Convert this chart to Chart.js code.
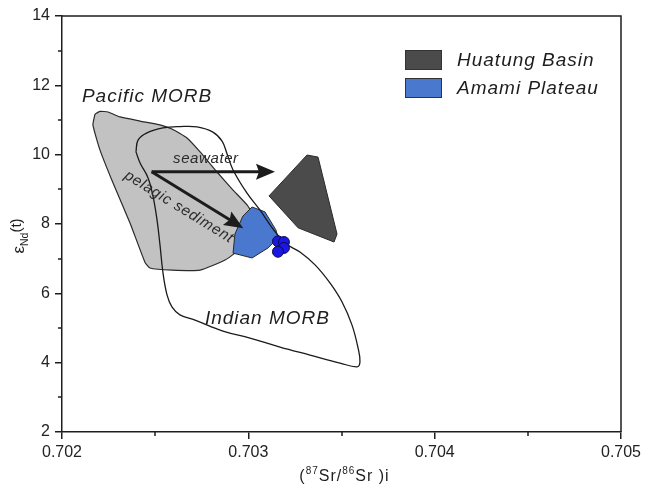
<!DOCTYPE html>
<html>
<head>
<meta charset="utf-8">
<title>εNd(t) vs (87Sr/86Sr)i</title>
<script src="https://cdn.jsdelivr.net/npm/chart.js@4.4.1/dist/chart.umd.min.js"></script>
<style>
  html, body { margin: 0; padding: 0; background: #fff; }
  #box { width: 646px; height: 490px; }
</style>
</head>
<body>
<div id="box"><canvas id="chart" width="646" height="490"></canvas></div>
<script>
// ---- axis ticks ----
const srTicks = [0.702, 0.703, 0.704, 0.705];
const srMinorTicks = [0.7025, 0.7035, 0.7045];
const ndTicks = [2, 4, 6, 8, 10, 12, 14];
const ndMinorTicks = [3, 5, 7, 9, 11, 13];

// ---- MORB fields (closed outlines) ----
const pacificSr = [0.702177, 0.702204, 0.702247, 0.702311, 0.702419, 0.702526, 0.702590, 0.702671,
  0.702741, 0.702832, 0.702918, 0.702993, 0.703020, 0.702945, 0.702875, 0.702741, 0.702590,
  0.702472, 0.702445, 0.702365, 0.702274, 0.702204, 0.702166, 0.702177];
const pacificNd = [11.17, 11.25, 11.23, 11.09, 10.97, 10.86, 10.74, 10.48,
  10.08, 9.50, 8.98, 8.55, 8.29, 7.25, 6.96, 6.67, 6.67,
  6.73, 6.90, 8.03, 9.18, 10.13, 10.86, 11.17];

const indianSr = [0.702397, 0.702408, 0.702456, 0.702542, 0.702633, 0.702725, 0.702810, 0.702859,
  0.702886, 0.702918, 0.702993, 0.703063, 0.703132, 0.703197, 0.703277, 0.703358, 0.703438,
  0.703503, 0.703556, 0.703589, 0.703599, 0.703583, 0.703492, 0.703331, 0.703170, 0.703009,
  0.702864, 0.702714, 0.702633, 0.702590, 0.702564, 0.702542, 0.702526, 0.702510, 0.702488,
  0.702462, 0.702419, 0.702397];
const indianNd = [10.08, 10.42, 10.63, 10.77, 10.81, 10.80, 10.65, 10.39,
  10.02, 9.56, 8.89, 8.40, 7.86, 7.45, 7.19, 6.82, 6.30,
  5.75, 5.09, 4.42, 4.02, 3.88, 3.99, 4.22, 4.45, 4.71,
  4.91, 5.23, 5.38, 5.61, 5.95, 6.59, 7.39, 8.12, 8.81,
  9.33, 9.76, 10.08];

// ---- back-arc basin fields ----
const huatungSr = [0.703111, 0.703315, 0.703374, 0.703476, 0.703460, 0.703267, 0.703111];
const huatungNd = [8.81, 9.99, 9.93, 7.71, 7.48, 7.89, 8.81];

const amamiSr = [0.702971, 0.703020, 0.703089, 0.703148, 0.703159, 0.703106, 0.703020, 0.702918, 0.702928, 0.702971];
const amamiNd = [8.23, 8.49, 8.35, 7.83, 7.60, 7.31, 7.02, 7.16, 7.71, 8.23];

// ---- analysed samples ----
const sampleSr = [0.703159, 0.703191, 0.703191, 0.703159];
const sampleNd = [7.50, 7.48, 7.31, 7.20];

// ---- alteration / contamination trends (tail, head) ----
const seawaterSr = [0.702481, 0.703143];
const seawaterNd = [9.51, 9.51];
const sedimentSr = [0.702481, 0.702973];
const sedimentNd = [9.51, 7.88];

// ---- in-plot field names ----
const fieldNames = ['Pacific MORB', 'Indian MORB', 'seawater', 'pelagic sediment'];
const fieldNameSr = [0.702107, 0.702767, 0.702596, 0.702628];
const fieldNameNd = [11.52, 5.12, 9.76, 8.49];

const legendFields = ['Huatung Basin', 'Amami Plateau'];

const zip = (xs, ys) => xs.map((x, i) => ({ x, y: ys[i] }));
const FONT = "'Liberation Sans', Arial, Helvetica, sans-serif";
const INK = '#1e1e1e';

const nameStyles = [
  { size: 19, spacing: 1, align: 'left', baseline: 'alphabetic', angle: 0 },
  { size: 19, spacing: 1, align: 'left', baseline: 'alphabetic', angle: 0 },
  { size: 15, spacing: 0.6, align: 'left', baseline: 'alphabetic', angle: 0 },
  { size: 15, spacing: 0.8, align: 'center', baseline: 'middle', angle: 31.5 }
];

function runsWidth(ctx, runs) {
  let w = 0;
  runs.forEach(r => { ctx.font = `${r.size}px ${FONT}`; w += ctx.measureText(r.text).width; });
  return w;
}
function drawRuns(ctx, runs, x0, base) {
  let cx = x0;
  runs.forEach(r => {
    ctx.font = `${r.size}px ${FONT}`;
    ctx.fillText(r.text, cx, base + r.dy);
    cx += ctx.measureText(r.text).width;
  });
}

// top/right frame and minor ticks
const framePlugin = {
  id: 'frame',
  afterDraw(chart) {
    const { ctx, chartArea: a, scales: { x, y } } = chart;
    ctx.save();
    ctx.strokeStyle = INK;
    ctx.lineWidth = 1.5;
    ctx.beginPath();
    ctx.moveTo(a.left, a.top);
    ctx.lineTo(a.right, a.top);
    ctx.lineTo(a.right, a.bottom);
    ctx.stroke();
    ctx.beginPath();
    srMinorTicks.forEach(v => {
      const p = Math.round(x.getPixelForValue(v));
      ctx.moveTo(p, a.bottom); ctx.lineTo(p, a.bottom + 4);
    });
    ndMinorTicks.forEach(v => {
      const p = Math.round(y.getPixelForValue(v));
      ctx.moveTo(a.left, p); ctx.lineTo(a.left - 4, p);
    });
    ctx.stroke();
    ctx.restore();
  }
};

// arrows for trend datasets
const arrowPlugin = {
  id: 'arrows',
  afterDatasetsDraw(chart) {
    const ctx = chart.ctx;
    chart.data.datasets.forEach((ds, i) => {
      if (!ds.arrow) return;
      const pts = chart.getDatasetMeta(i).data;
      const a = pts[0], b = pts[pts.length - 1];
      const ang = Math.atan2(b.y - a.y, b.x - a.x);
      const c = Math.cos(ang), s = Math.sin(ang);
      const L = 19, W = 8, notch = 3;
      const bx = b.x - L * c, by = b.y - L * s;
      ctx.save();
      ctx.strokeStyle = ds.borderColor;
      ctx.fillStyle = ds.borderColor;
      ctx.lineWidth = 3;
      ctx.lineCap = 'butt';
      ctx.beginPath();
      ctx.moveTo(a.x, a.y);
      ctx.lineTo(bx + notch * c + 2 * c, by + notch * s + 2 * s);
      ctx.stroke();
      ctx.beginPath();
      ctx.moveTo(b.x, b.y);
      ctx.lineTo(bx - W * s, by + W * c);
      ctx.lineTo(bx + notch * c, by + notch * s);
      ctx.lineTo(bx + W * s, by - W * c);
      ctx.closePath();
      ctx.fill();
      ctx.restore();
    });
  }
};

// field names, legend, axis titles
const textPlugin = {
  id: 'texts',
  afterDraw(chart) {
    const { ctx, chartArea: a, scales: { x, y } } = chart;
    ctx.save();
    ctx.fillStyle = INK;

    fieldNames.forEach((name, i) => {
      const st = nameStyles[i];
      ctx.save();
      ctx.translate(x.getPixelForValue(fieldNameSr[i]), y.getPixelForValue(fieldNameNd[i]));
      ctx.rotate(st.angle * Math.PI / 180);
      ctx.font = `italic ${st.size}px ${FONT}`;
      ctx.letterSpacing = st.spacing + 'px';
      ctx.textAlign = st.align;
      ctx.textBaseline = st.baseline;
      ctx.fillStyle = i < 2 ? INK : '#2a2a2a';
      ctx.fillText(name, 0, 0);
      ctx.restore();
    });

    // legend
    const lx = a.left + 343, ly = a.top + 34;
    legendFields.forEach((name, k) => {
      const ds = chart.data.datasets.find(d => d.label === name);
      const top = ly + k * 28;
      ctx.fillStyle = ds.backgroundColor;
      ctx.fillRect(lx, top, 37, 20);
      ctx.strokeStyle = '#333';
      ctx.lineWidth = 1;
      ctx.strokeRect(lx + 0.5, top + 0.5, 36, 19);
      ctx.save();
      ctx.fillStyle = INK;
      ctx.font = `italic 19px ${FONT}`;
      ctx.letterSpacing = '1px';
      ctx.textAlign = 'left';
      ctx.textBaseline = 'middle';
      ctx.fillText(name, lx + 52, top + 10.5);
      ctx.restore();
    });

    // x axis title: (87Sr/86Sr )i
    ctx.fillStyle = INK;
    ctx.textAlign = 'left';
    ctx.textBaseline = 'alphabetic';
    ctx.letterSpacing = '1px';
    const xr = [
      { text: '(', size: 16, dy: 0 },
      { text: '87', size: 10, dy: -7 },
      { text: 'Sr/', size: 16, dy: 0 },
      { text: '86', size: 10, dy: -7 },
      { text: 'Sr )i', size: 16, dy: 0 }
    ];
    const xw = runsWidth(ctx, xr);
    drawRuns(ctx, xr, (a.left + a.right) / 2 + 3 - xw / 2, a.bottom + 49);

    // y axis title: εNd(t)
    ctx.letterSpacing = '0px';
    const yr = [
      { text: 'ε', size: 17, dy: 3 },
      { text: 'Nd', size: 10.5, dy: 7 },
      { text: '(t)', size: 15, dy: 0 }
    ];
    const yw = runsWidth(ctx, yr);
    ctx.save();
    ctx.translate(21, (a.top + a.bottom) / 2 + 12);
    ctx.rotate(-Math.PI / 2);
    drawRuns(ctx, yr, -yw / 2, 0);
    ctx.restore();

    ctx.restore();
  }
};

Chart.defaults.font.family = FONT;

new Chart(document.getElementById('chart'), {
  type: 'scatter',
  data: {
    datasets: [
      { label: 'samples', data: zip(sampleSr, sampleNd), showLine: false,
        pointRadius: 5.5, backgroundColor: '#1a16e4', borderColor: '#0b0b4e', borderWidth: 1, order: 1 },
      { label: 'Indian MORB', data: zip(indianSr, indianNd), showLine: true, fill: false,
        borderColor: '#1a1a1a', borderWidth: 1.3, pointRadius: 0, tension: 0.4, order: 2 },
      { label: 'Huatung Basin', data: zip(huatungSr, huatungNd), showLine: true, fill: 'shape',
        backgroundColor: '#4b4b4b', borderColor: '#2a2a2a', borderWidth: 1, pointRadius: 0, tension: 0, order: 3 },
      { label: 'Amami Plateau', data: zip(amamiSr, amamiNd), showLine: true, fill: 'shape',
        backgroundColor: '#4a78cf', borderColor: '#2a2a2a', borderWidth: 1, pointRadius: 0, tension: 0, order: 4 },
      { label: 'Pacific MORB', data: zip(pacificSr, pacificNd), showLine: true, fill: 'shape',
        backgroundColor: '#c2c2c2', borderColor: '#2a2a2a', borderWidth: 1.2, pointRadius: 0, tension: 0.15, order: 5 },
      { label: 'seawater', arrow: true, data: zip(seawaterSr, seawaterNd), showLine: false,
        pointRadius: 0, borderColor: '#1c1c1c', order: 0 },
      { label: 'pelagic sediment', arrow: true, data: zip(sedimentSr, sedimentNd), showLine: false,
        pointRadius: 0, borderColor: '#1c1c1c', order: 0 }
    ]
  },
  options: {
    responsive: false,
    animation: false,
    events: [],
    devicePixelRatio: 1,
    layout: { padding: { left: 0, top: 16, right: 25, bottom: 0 } },
    plugins: { legend: { display: false }, tooltip: { enabled: false } },
    scales: {
      x: {
        type: 'linear', min: 0.702, max: 0.705,
        afterBuildTicks: s => { s.ticks = srTicks.map(v => ({ value: v })); },
        afterFit: s => { s.height = 58; },
        ticks: { callback: v => Number(v).toFixed(3), font: { size: 16 }, color: '#222',
                 padding: 4, maxRotation: 0, autoSkip: false },
        grid: { drawOnChartArea: false, tickLength: 7, color: INK, lineWidth: 1.5 },
        border: { color: INK, width: 1.5 }
      },
      y: {
        type: 'linear', min: 2, max: 14,
        afterBuildTicks: s => { s.ticks = ndTicks.map(v => ({ value: v })); },
        afterFit: s => { s.width = 62; },
        ticks: { callback: v => String(v), font: { size: 16 }, color: '#222', padding: 5, autoSkip: false },
        grid: { drawOnChartArea: false, tickLength: 7, color: INK, lineWidth: 1.5 },
        border: { color: INK, width: 1.5 }
      }
    }
  },
  plugins: [arrowPlugin, framePlugin, textPlugin]
});
</script>
</body>
</html>
